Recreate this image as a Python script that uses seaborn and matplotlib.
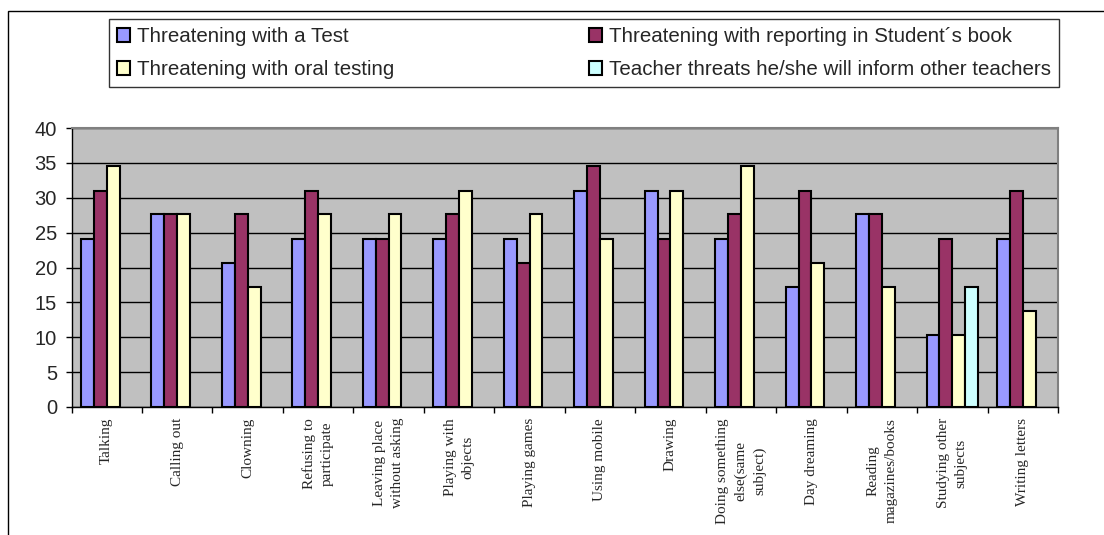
import matplotlib
matplotlib.use("Agg")
import matplotlib.pyplot as plt
from matplotlib.patches import Rectangle
import numpy as np
import pandas as pd
import seaborn as sns

categories = [
    "Talking", "Calling out", "Clowning", "Refusing to\nparticipate",
    "Leaving place\nwithout asking", "Playing with\nobjects", "Playing games",
    "Using mobile", "Drawing", "Doing something\nelse(same\nsubject)",
    "Day dreaming", "Reading\nmagazines/books", "Studying other\nsubjects",
    "Writing letters",
]
series_names = [
    "Threatening with a Test",
    "Threatening with reporting in Student\u00b4s book",
    "Threatening with oral testing",
    "Teacher threats he/she will inform other teachers",
]
test_vals = [24.1, 27.6, 20.7, 24.1, 24.1, 24.1, 24.1, 31.0, 31.0, 24.1, 17.2, 27.6, 10.3, 24.1]
book_vals = [31.0, 27.6, 27.6, 31.0, 24.1, 27.6, 20.7, 34.5, 24.1, 27.6, 31.0, 27.6, 24.1, 31.0]
oral_vals = [34.5, 27.6, 17.2, 27.6, 27.6, 31.0, 27.6, 24.1, 31.0, 34.5, 20.7, 17.2, 10.3, 13.8]
inform_vals = [np.nan] * 12 + [17.2, np.nan]
colors = ["#9999FF", "#993366", "#FFFFCC", "#CCFFFF"]

rows = []
for name, vals in zip(series_names, [test_vals, book_vals, oral_vals, inform_vals]):
    for c, v in zip(categories, vals):
        rows.append({"cat": c, "series": name, "value": v})
df = pd.DataFrame(rows)

sns.set_theme(style="white")
plt.rcParams["font.family"] = ["Liberation Sans", "DejaVu Sans"]

W, H = 1104, 535
fig = plt.figure(figsize=(W / 100, H / 100), dpi=100)
fig.patch.set_facecolor("white")
ax = fig.add_axes([71.5 / W, 1 - 407 / H, (1058 - 71.5) / W, (407 - 128) / H])

sns.barplot(data=df, x="cat", y="value", hue="series", order=categories,
            hue_order=series_names, palette=colors, width=0.73,
            edgecolor="black", linewidth=1.5, saturation=1, ax=ax,
            legend=False, errorbar=None)

ax.set_facecolor("#C0C0C0")
ax.set_ylim(0, 40)
ax.set_xlim(-0.5, len(categories) - 0.5)
ax.set_yticks(np.arange(0, 41, 5))
ax.yaxis.grid(True, color="black", linewidth=1)
ax.set_axisbelow(True)
ax.set_xlabel("")
ax.set_ylabel("")

ax.set_xticks(np.arange(len(categories)))
ax.set_xticklabels(categories, rotation=90, ha="center", va="top",
                   family=["Liberation Serif"], fontsize=11,
                   multialignment="center", linespacing=1.5)
ax.tick_params(axis="x", which="major", length=0, pad=8)
ax.set_xticks(np.arange(-0.5, len(categories), 1), minor=True)
ax.tick_params(axis="x", which="minor", length=4, width=1, color="black",
               direction="out", bottom=True)
ax.tick_params(axis="y", length=4.5, width=1, color="black", direction="out",
               left=True, labelsize=14.5, pad=6)
for lab in ax.get_yticklabels():
    lab.set_family(["Liberation Sans"])

for s in ["top", "right"]:
    ax.spines[s].set_color("#808080")
    ax.spines[s].set_linewidth(1.5)
for s in ["left", "bottom"]:
    ax.spines[s].set_color("black")
    ax.spines[s].set_linewidth(1)

handles = [Rectangle((0, 0), 1, 1, facecolor=c, edgecolor="black", linewidth=1.5)
           for c in colors]
order = [0, 2, 1, 3]
leg = fig.legend([handles[i] for i in order], [series_names[i] for i in order],
                 ncol=2, loc="upper left",
                 bbox_to_anchor=(109 / W, 1 - 19 / H),
                 frameon=True, fancybox=False,
                 edgecolor="black", handlelength=0.63,
                 handleheight=0.63, handletextpad=0.34, borderaxespad=0,
                 borderpad=0.39, labelspacing=0.7, columnspacing=9.5,
                 prop={"family": "Liberation Sans", "size": 14.8})
leg.get_frame().set_linewidth(1)

fig.patches.append(Rectangle((8 / W, -0.1), 1.2, 1 - 11 / H + 0.1,
                             transform=fig.transFigure, fill=False,
                             edgecolor="black", linewidth=1))

fig.savefig("out.png", dpi=100)
